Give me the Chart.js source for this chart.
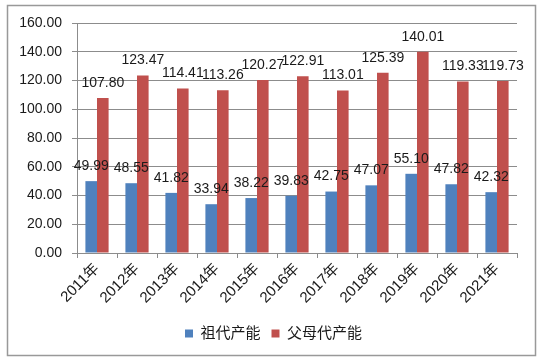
<!DOCTYPE html>
<html>
<head>
<meta charset="utf-8">
<script src="https://cdn.jsdelivr.net/npm/chart.js@4"></script>
<style>
  html, body { margin: 0; padding: 0; background: #fff; }
  #wrap { width: 540px; height: 363px; position: relative; }
</style>
</head>
<body>
<div id="wrap"><canvas id="chart" width="540" height="363"></canvas></div>
<script>
// Daten
const jahre = ['2011年', '2012年', '2013年', '2014年', '2015年', '2016年', '2017年', '2018年', '2019年', '2020年', '2021年'];
const zudai = [49.99, 48.55, 41.82, 33.94, 38.22, 39.83, 42.75, 47.07, 55.10, 47.82, 42.32];
const fumudai = [107.80, 123.47, 114.41, 113.26, 120.27, 122.91, 113.01, 125.39, 140.01, 119.33, 119.73];
const serienNamen = ['祖代产能', '父母代产能'];

const schrift = '"Liberation Sans", "Noto Sans CJK SC", sans-serif';
const grau = '#8c8c8c';

// Rahmen um das ganze Diagramm
const rahmen = {
  id: 'rahmen',
  beforeDraw(chart) {
    const ctx = chart.ctx;
    ctx.save();
    ctx.fillStyle = '#fff';
    ctx.fillRect(0, 0, chart.width, chart.height);
    ctx.strokeStyle = '#999';
    ctx.lineWidth = 1.5;
    ctx.strokeRect(7.5, 5.5, 528, 350);
    ctx.restore();
  },
  // Legende etwas nach rechts schieben (wie im Original mittig auf der Seite)
  afterLayout(chart) {
    chart.legend.left += 15;
    chart.legend.right += 15;
  }
};

// Werte über den Balken
const werte = {
  id: 'werte',
  afterDatasetsDraw(chart) {
    const ctx = chart.ctx;
    ctx.save();
    ctx.font = '14px ' + schrift;
    ctx.fillStyle = '#1a1a1a';
    ctx.textAlign = 'center';
    ctx.textBaseline = 'bottom';
    chart.data.datasets.forEach((ds, i) => {
      chart.getDatasetMeta(i).data.forEach((bar, j) => {
        ctx.fillText(ds.data[j].toFixed(2), bar.x, bar.y - 8);
      });
    });
    ctx.restore();
  }
};

new Chart(document.getElementById('chart').getContext('2d'), {
  type: 'bar',
  data: {
    labels: jahre,
    datasets: [
      { label: serienNamen[0], data: zudai, backgroundColor: '#4f81bd' },
      { label: serienNamen[1], data: fumudai, backgroundColor: '#c0504d' }
    ]
  },
  options: {
    responsive: false,
    animation: false,
    devicePixelRatio: 1,
    datasets: { bar: { categoryPercentage: 0.58, barPercentage: 1.0 } },
    layout: { padding: { left: 0, right: 23, top: 23, bottom: 12 } },
    scales: {
      x: {
        grid: { drawOnChartArea: false, drawTicks: true, tickLength: 5, color: grau, offset: true },
        border: { color: grau, width: 1 },
        ticks: { color: '#1a1a1a', font: { family: schrift, size: 15 }, minRotation: 45, maxRotation: 45, padding: 2 },
        afterFit(scale) { scale.height = 62; }
      },
      y: {
        min: 0,
        max: 160,
        ticks: {
          stepSize: 20,
          color: '#1a1a1a',
          padding: 10,
          font: { family: schrift, size: 14 },
          callback: v => v.toFixed(2)
        },
        grid: { color: grau, tickLength: 5 },
        border: { color: grau, width: 1 },
        afterFit(scale) { scale.width = 77; }
      }
    },
    plugins: {
      legend: {
        position: 'bottom',
        labels: {
          boxWidth: 8,
          boxHeight: 8,
          color: '#1a1a1a',
          padding: 11,
          font: { family: schrift, size: 15 }
        }
      },
      tooltip: { enabled: false }
    }
  },
  plugins: [rahmen, werte]
});
</script>
</body>
</html>
